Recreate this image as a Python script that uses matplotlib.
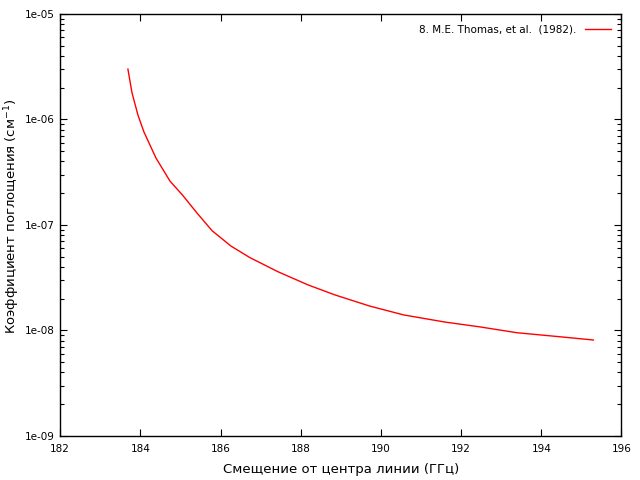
import matplotlib
matplotlib.use('Agg')
import matplotlib.pyplot as plt
from matplotlib.ticker import LogLocator, FixedLocator, FuncFormatter

# frequency offset (GHz) and absorption coefficient (cm^-1)
freq = [183.69, 183.79, 183.94, 184.09, 184.39, 184.74, 185.06, 185.41, 185.79,
        186.26, 186.73, 187.43, 188.18, 188.85, 189.72, 190.57, 191.59, 192.46,
        193.39, 194.46, 195.30]
absorb = [3.0e-6, 1.8e-6, 1.1e-6, 7.6e-7, 4.3e-7, 2.6e-7, 1.9e-7, 1.3e-7, 8.8e-8,
          6.3e-8, 4.9e-8, 3.6e-8, 2.7e-8, 2.17e-8, 1.7e-8, 1.4e-8, 1.2e-8, 1.08e-8,
          9.5e-9, 8.7e-9, 8.1e-9]
label = '8. M.E. Thomas, et al.  (1982).'

fig = plt.figure(figsize=(6.4, 4.8), dpi=100)
ax = fig.add_axes([0.094, 0.092, 0.877, 0.879])

ax.plot(freq, absorb, color='#ff0000', lw=1.0, label=label)

ax.set_yscale('log')
ax.set_xlim(182, 196)
ax.set_ylim(1e-9, 1e-5)
ax.xaxis.set_major_locator(FixedLocator(range(182, 197, 2)))
ax.yaxis.set_major_locator(LogLocator(base=10, numticks=10))
ax.yaxis.set_minor_locator(LogLocator(base=10, subs=range(2, 10), numticks=10))
ax.yaxis.set_major_formatter(FuncFormatter(lambda v, p: '%.0e' % v))
ax.tick_params(which='both', direction='in', top=True, right=True, labelsize=7.5)
ax.tick_params(which='major', length=5, width=0.8)
ax.tick_params(which='minor', length=3, width=0.8)
ax.tick_params(axis='x', pad=6)
ax.tick_params(axis='y', pad=4)
for s in ax.spines.values():
    s.set_linewidth(1.0)

ax.set_xlabel('Смещение от центра линии (ГГц)', fontsize=9.5)
ax.set_ylabel('Коэффициент поглощения (см$^{-1}$)', fontsize=9.5)
ax.yaxis.set_label_coords(-0.068, 0.52)
ax.xaxis.set_label_coords(0.5, -0.064)

ax.legend(loc='upper right', frameon=False, fontsize=7.5, handlelength=2.5,
          markerfirst=False, borderaxespad=0.6)

fig.savefig('out.png', dpi=100)
